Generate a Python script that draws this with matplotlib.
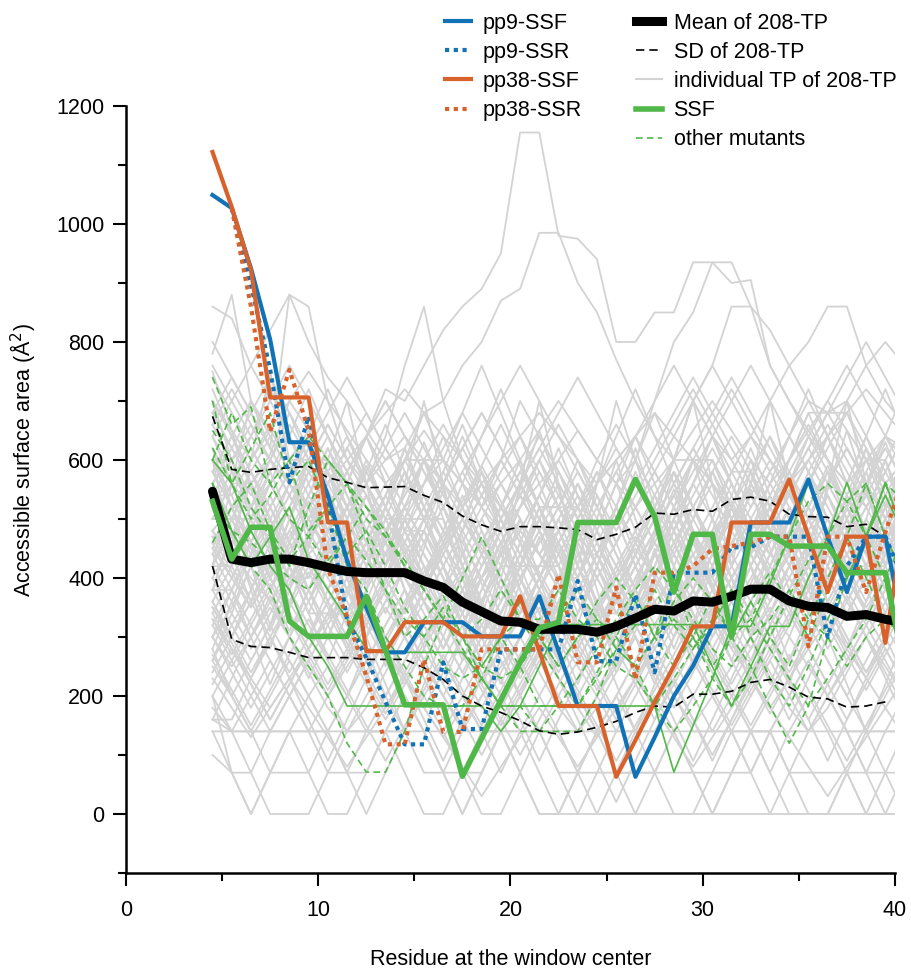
import numpy as np
import matplotlib
matplotlib.use('Agg')
import matplotlib.pyplot as plt
from matplotlib.lines import Line2D
from matplotlib.ticker import MultipleLocator

plt.rcParams['font.family'] = ['Liberation Sans', 'DejaVu Sans']

nan = np.nan

# window centres; the last one lies past the axis end and is clipped
x = np.arange(4.5, 41.0, 1.0)

mean_tp = [547, 432, 426, 432, 432, 426, 418, 411, 409, 409, 409, 395, 384, 359, 343, 327, 325, 313, 313,
           313, 308, 318, 332, 347, 344, 361, 359, 369, 381, 381, 361, 352, 350, 335, 338, 330, 324]
sd_hi = [674, 584, 579, 584, 587, 589, 570, 562, 553, 554, 555, 540, 528, 505, 490, 479, 487, 487,
         485, 482, 465, 474, 486, 510, 508, 516, 513, 533, 537, 530, 508, 504, 503, 487, 491, 470]
sd_lo = [420, 296, 284, 282, 274, 265, 265, 265, 262, 262, 262, 248, 228, 200, 183, 172, 158, 141,
         135, 139, 147, 157, 172, 183, 181, 203, 203, 208, 223, 228, 215, 198, 195, 181, 183, 190]

pp9_ssf = [1049, 1027, 925, 804, 630, 630, 540, 430, 350, 274, 274, 325, 325, 325, 301, 301, 301, 369, 276,
           183, 183, 183, 63, 130, 200, 251, 318, 318, 494, 494, 494, 567, 470, 376, 470, 470, 302]
pp9_ssr = [nan, 1027, 897, 753, 562, 674, 520, 330, 265, 190, 118, 118, 257, 144, 144, 279, 279, 279, 279,
           395, 259, 259, 372, 240, 409, 409, 409, 452, 452, 470, 470, 470, 300, 420, 470, 470, 394]
pp38_ssf = [1122, 1029, 922, 706, 706, 706, 494, 494, 276, 276, 325, 325, 325, 301, 301, 301, 369, 276, 183,
            183, 183, 63, 125, 190, 251, 318, 318, 494, 494, 494, 567, 470, 376, 470, 470, 290, 500]
pp38_ssr = [nan, 1027, 860, 648, 753, 650, 415, 335, 234, 118, 118, 262, 139, 139, 279, 279, 279, 279, 406,
            257, 257, 384, 228, 409, 409, 420, 449, 454, 460, 470, 470, 284, 470, 470, 376, 477, 578]
ssf = [530, 432, 486, 486, 327, 301, 301, 301, 369, 277, 185, 185, 185, 64, 128, 193, 257, 315, 325,
       494, 494, 494, 567, 504, 376, 474, 474, 300, 474, 474, 454, 454, 454, 409, 409, 409, 245]

# other mutants (thin solid and dashed green)
mut_solid = [
    [600, 560, 480, 420, 380, 300, 250, 183, 183, 183, 183, 183, 183, 183, 183, 140, 183, 250, 321,
     321, 321, 321, 321, 321, 321, 321, 250, 183, 250, 318, 318, 400, 470, 562, 470, 562, 470],
    [560, 480, 420, 470, 520, 430, 380, 330, 280, 274, 274, 274, 274, 274, 230, 183, 183, 183, 183,
     183, 183, 183, 183, 183, 71, 150, 230, 318, 318, 390, 470, 562, 470, 400, 470, 540, 470],
]
mut_dash = [
    [740, 660, 690, 560, 600, 480, 520, 420, 380, 300, 250, 200, 183, 183, 230, 300, 250, 183, 183,
     183, 240, 300, 370, 300, 250, 300, 370, 300, 250, 183, 120, 183, 300, 400, 470, 560, 470],
    [700, 560, 620, 680, 560, 600, 520, 440, 480, 420, 350, 300, 350, 300, 230, 183, 140, 140, 140,
     140, 200, 280, 320, 380, 320, 280, 320, 380, 300, 230, 183, 250, 330, 400, 470, 400, 330],
    [650, 600, 520, 470, 420, 520, 600, 560, 470, 380, 300, 330, 370, 300, 250, 300, 360, 300, 250,
     300, 360, 400, 360, 300, 360, 400, 360, 300, 360, 410, 360, 300, 380, 470, 560, 470, 400],
    [560, 480, 420, 380, 300, 250, 200, 120, 71, 71, 140, 250, 330, 400, 470, 400, 330, 300, 250,
     300, 330, 280, 250, 183, 140, 183, 230, 300, 360, 300, 250, 330, 400, 470, 400, 330, 300],
    [600, 680, 600, 560, 500, 470, 420, 470, 520, 480, 420, 380, 330, 300, 250, 230, 250, 300, 330,
     380, 330, 300, 250, 300, 400, 300, 230, 183, 230, 300, 370, 430, 470, 530, 560, 470, 400],
    [460, 520, 560, 480, 430, 470, 520, 560, 500, 470, 430, 380, 330, 280, 230, 183, 183, 140, 183,
     230, 280, 330, 380, 420, 380, 330, 280, 250, 300, 330, 380, 330, 300, 250, 300, 330, 300],
    [520, 480, 460, 430, 400, 380, 430, 470, 430, 380, 330, 300, 250, 230, 250, 300, 330, 330, 380,
     330, 300, 250, 230, 183, 230, 280, 330, 380, 330, 280, 230, 183, 230, 280, 330, 400, 470],
    [620, 560, 500, 540, 600, 640, 600, 560, 520, 470, 420, 380, 330, 300, 330, 380, 330, 280, 230,
     183, 230, 280, 250, 300, 330, 300, 250, 300, 330, 400, 470, 530, 560, 530, 470, 560, 530],
]

# individual TPs of the 208-TP set (a readable subset)
tp_lines = [
    [520, 470, 560, 610, 700, 650, 600, 560, 640, 720, 700, 760, 820, 860, 890, 950, 1155, 1155, 980, 975, 940, 800, 800, 850, 850, 935, 935, 900, 905, 760, 700, 650, 600, 560, 600, 640, 620],
    [860, 840, 760, 820, 880, 800, 740, 700, 650, 600, 620, 680, 700, 760, 800, 870, 890, 985, 985, 900, 850, 770, 700, 640, 600, 700, 760, 860, 860, 820, 760, 700, 680, 700, 760, 800, 760],
    [780, 880, 700, 620, 880, 860, 700, 600, 560, 640, 760, 860, 700, 600, 520, 600, 700, 640, 580, 520, 600, 660, 600, 540, 600, 700, 760, 700, 640, 600, 560, 640, 700, 760, 700, 640, 600],
    [600, 560, 520, 560, 600, 650, 600, 560, 520, 480, 520, 560, 600, 560, 520, 560, 600, 650, 700, 650, 600, 560, 600, 700, 800, 850, 935, 935, 860, 760, 700, 640, 600, 560, 520, 560, 600],
    [480, 520, 560, 600, 560, 520, 480, 520, 560, 600, 640, 600, 560, 520, 560, 600, 640, 680, 640, 600, 560, 600, 640, 700, 760, 700, 640, 600, 640, 700, 760, 800, 860, 860, 760, 700, 660],
    [700, 650, 600, 650, 700, 750, 700, 650, 600, 560, 600, 650, 600, 560, 520, 480, 520, 560, 600, 650, 600, 560, 520, 560, 600, 650, 700, 650, 600, 560, 600, 650, 700, 650, 600, 560, 600],
    [640, 700, 760, 700, 640, 580, 520, 580, 640, 700, 640, 580, 520, 460, 520, 580, 640, 580, 520, 460, 400, 460, 520, 580, 640, 700, 640, 580, 520, 580, 640, 700, 640, 580, 520, 460, 520],
    [560, 600, 640, 600, 560, 520, 560, 600, 640, 680, 720, 680, 640, 600, 560, 520, 480, 440, 480, 520, 560, 600, 640, 680, 640, 600, 560, 520, 480, 520, 560, 600, 640, 680, 720, 680, 640],
    [600, 450, 600, 750, 600, 450, 600, 700, 560, 420, 560, 700, 560, 420, 300, 420, 560, 700, 560, 420, 560, 700, 600, 500, 600, 700, 560, 420, 560, 700, 560, 420, 560, 700, 560, 420, 560],
    [420, 560, 700, 650, 600, 600, 600, 520, 440, 520, 600, 600, 600, 680, 760, 680, 600, 520, 520, 520, 440, 360, 440, 520, 600, 600, 600, 520, 440, 520, 600, 680, 680, 680, 600, 520, 520],
    [800, 740, 680, 620, 560, 500, 560, 620, 560, 500, 440, 500, 560, 620, 680, 620, 560, 500, 440, 380, 440, 500, 560, 620, 680, 740, 680, 620, 560, 500, 440, 500, 560, 500, 440, 500, 560],
    [500, 560, 640, 720, 640, 560, 480, 560, 640, 560, 480, 400, 480, 560, 640, 720, 640, 560, 480, 400, 480, 560, 480, 400, 480, 560, 640, 560, 480, 560, 640, 720, 640, 560, 640, 720, 640],
    [450, 400, 350, 400, 450, 500, 450, 400, 350, 300, 350, 400, 450, 500, 450, 400, 350, 300, 250, 300, 350, 400, 450, 400, 350, 300, 350, 400, 450, 500, 550, 500, 450, 400, 350, 400, 450],
    [380, 480, 380, 280, 380, 480, 580, 480, 380, 480, 380, 280, 380, 480, 580, 480, 380, 280, 380, 480, 380, 280, 380, 480, 580, 480, 380, 480, 580, 480, 380, 280, 380, 480, 380, 480, 580],
    [550, 500, 500, 500, 420, 340, 340, 340, 420, 500, 500, 420, 340, 260, 340, 420, 420, 420, 500, 420, 340, 340, 340, 420, 500, 420, 340, 260, 260, 340, 420, 500, 500, 420, 340, 340, 420],
    [300, 350, 420, 480, 540, 480, 420, 360, 300, 360, 420, 480, 420, 360, 420, 480, 540, 480, 420, 360, 300, 360, 420, 480, 540, 600, 540, 480, 420, 360, 420, 480, 540, 480, 420, 360, 300],
    [620, 520, 420, 320, 420, 520, 420, 320, 420, 520, 620, 520, 420, 320, 220, 320, 420, 520, 420, 320, 420, 520, 620, 520, 420, 320, 420, 520, 420, 320, 220, 320, 420, 520, 620, 520, 420],
    [480, 440, 400, 360, 400, 440, 480, 520, 480, 440, 400, 360, 320, 360, 400, 440, 480, 440, 400, 360, 320, 280, 320, 360, 400, 440, 480, 520, 480, 440, 400, 360, 400, 440, 480, 440, 400],
    [350, 300, 380, 460, 380, 300, 380, 460, 540, 460, 380, 300, 220, 300, 380, 460, 380, 300, 380, 460, 540, 460, 380, 300, 380, 460, 380, 300, 220, 300, 380, 460, 540, 460, 380, 460, 540],
    [700, 600, 500, 400, 500, 600, 500, 400, 300, 400, 500, 600, 500, 400, 300, 400, 500, 400, 300, 400, 500, 600, 500, 400, 500, 600, 500, 400, 300, 400, 500, 400, 300, 400, 500, 600, 500],
    [420, 420, 500, 580, 500, 420, 420, 420, 340, 420, 500, 500, 500, 420, 340, 340, 420, 500, 580, 500, 420, 340, 340, 420, 500, 420, 340, 260, 340, 420, 500, 580, 500, 420, 420, 500, 580],
    [260, 340, 420, 500, 420, 340, 260, 340, 420, 500, 580, 500, 420, 340, 420, 500, 420, 340, 260, 340, 420, 500, 420, 340, 420, 500, 580, 500, 420, 340, 260, 340, 420, 500, 420, 340, 420],
    [580, 640, 580, 520, 460, 400, 460, 520, 580, 520, 460, 400, 340, 400, 460, 520, 460, 400, 340, 280, 340, 400, 460, 520, 460, 400, 460, 520, 580, 640, 580, 520, 460, 400, 460, 520, 580],
    [400, 460, 520, 460, 400, 460, 520, 580, 520, 460, 400, 340, 280, 340, 400, 460, 520, 580, 520, 460, 400, 340, 400, 460, 520, 460, 400, 340, 280, 340, 400, 460, 400, 340, 400, 460, 520],
    [300, 250, 300, 350, 300, 250, 200, 250, 300, 350, 300, 250, 200, 150, 200, 250, 300, 350, 300, 250, 200, 250, 300, 250, 200, 150, 200, 250, 300, 350, 300, 250, 200, 250, 300, 250, 200],
    [360, 300, 240, 300, 360, 420, 360, 300, 240, 180, 240, 300, 360, 300, 240, 180, 240, 300, 360, 420, 360, 300, 240, 300, 360, 300, 240, 180, 240, 300, 360, 420, 360, 300, 240, 300, 360],
    [200, 140, 200, 260, 200, 140, 140, 140, 200, 260, 320, 260, 200, 140, 140, 140, 200, 260, 200, 140, 200, 260, 320, 260, 200, 140, 140, 140, 200, 260, 200, 140, 200, 260, 320, 260, 200],
    [160, 140, 140, 140, 200, 260, 200, 140, 140, 140, 140, 200, 260, 320, 260, 200, 140, 140, 140, 140, 200, 140, 140, 140, 200, 260, 200, 140, 140, 140, 200, 260, 200, 140, 140, 140, 140],
    [330, 280, 230, 180, 230, 280, 330, 380, 330, 280, 230, 180, 130, 180, 230, 280, 330, 280, 230, 180, 130, 180, 230, 280, 330, 380, 330, 280, 230, 180, 230, 280, 330, 280, 230, 180, 230],
    [200, 70, 0, 70, 140, 140, 140, 70, 0, 70, 140, 200, 140, 70, 0, 0, 70, 140, 140, 70, 0, 70, 140, 200, 140, 70, 0, 70, 140, 140, 70, 0, 0, 70, 140, 70, 0],
    [140, 140, 70, 0, 0, 0, 70, 140, 140, 140, 70, 0, 0, 70, 140, 140, 70, 0, 0, 0, 0, 0, 0, 0, 0, 0, 0, 0, 0, 0, 0, 0, 0, 0, 0, 0, 0],
    [250, 200, 140, 140, 140, 200, 250, 200, 140, 140, 140, 140, 140, 200, 140, 140, 140, 140, 140, 140, 140, 140, 140, 140, 140, 140, 140, 140, 140, 140, 140, 140, 140, 140, 140, 140, 140],
    [280, 200, 140, 70, 70, 70, 140, 200, 280, 200, 140, 70, 70, 70, 70, 140, 200, 140, 70, 70, 70, 70, 70, 70, 70, 70, 70, 70, 70, 140, 70, 70, 70, 70, 70, 70, 70],
    [230, 180, 130, 180, 230, 180, 130, 80, 130, 180, 230, 180, 130, 80, 30, 80, 130, 180, 130, 80, 130, 180, 230, 180, 130, 80, 130, 180, 230, 180, 130, 80, 30, 80, 130, 180, 130],
    [520, 460, 520, 580, 640, 580, 520, 460, 400, 460, 520, 460, 400, 340, 400, 460, 400, 340, 280, 340, 400, 460, 520, 460, 400, 340, 280, 220, 280, 340, 400, 340, 280, 340, 400, 460, 400],
    [680, 620, 560, 500, 440, 380, 440, 500, 440, 380, 320, 380, 440, 500, 560, 500, 440, 380, 320, 260, 320, 380, 440, 500, 560, 620, 560, 500, 440, 380, 440, 500, 560, 620, 560, 500, 440],
    [440, 500, 560, 500, 440, 500, 560, 620, 680, 620, 560, 500, 440, 380, 440, 500, 560, 500, 440, 380, 320, 380, 440, 500, 440, 380, 440, 500, 560, 500, 440, 500, 560, 620, 560, 500, 560],
    [600, 540, 600, 660, 600, 540, 480, 420, 480, 540, 600, 540, 480, 420, 360, 420, 480, 540, 600, 540, 480, 420, 480, 540, 480, 420, 360, 420, 480, 540, 600, 660, 600, 540, 480, 540, 600],
    [340, 400, 460, 400, 340, 280, 340, 400, 460, 520, 460, 400, 340, 280, 220, 280, 340, 400, 460, 400, 340, 400, 460, 520, 580, 520, 460, 400, 340, 280, 340, 400, 460, 400, 340, 400, 460],
    [750, 650, 550, 450, 350, 450, 550, 450, 350, 250, 350, 450, 550, 450, 350, 450, 550, 650, 550, 450, 350, 250, 350, 450, 350, 250, 350, 450, 550, 450, 350, 450, 550, 650, 550, 450, 350],
    [470, 470, 390, 310, 390, 470, 550, 470, 390, 470, 550, 630, 550, 470, 390, 310, 390, 470, 390, 310, 230, 310, 390, 470, 550, 470, 390, 310, 390, 470, 550, 470, 390, 470, 550, 630, 550],
    [580, 520, 460, 400, 340, 280, 220, 280, 340, 400, 460, 520, 580, 520, 460, 400, 340, 400, 460, 520, 460, 400, 340, 280, 340, 400, 460, 520, 460, 400, 340, 280, 220, 280, 340, 400, 460],
    [660, 720, 660, 600, 540, 600, 660, 600, 540, 480, 540, 600, 540, 480, 420, 480, 540, 600, 660, 600, 540, 480, 540, 600, 660, 720, 660, 600, 540, 480, 540, 600, 540, 480, 540, 600, 660],
    [380, 320, 260, 320, 380, 440, 380, 320, 260, 200, 260, 320, 380, 440, 500, 440, 380, 320, 260, 200, 140, 200, 260, 320, 380, 440, 380, 320, 260, 320, 380, 440, 500, 440, 380, 320, 260],
    [540, 480, 420, 480, 540, 600, 660, 600, 540, 480, 420, 360, 420, 480, 540, 600, 540, 480, 420, 360, 300, 360, 420, 480, 420, 360, 300, 360, 420, 480, 540, 480, 420, 360, 420, 480, 540],
    [320, 380, 320, 260, 200, 260, 320, 380, 440, 380, 320, 260, 320, 380, 320, 260, 200, 140, 200, 260, 320, 380, 320, 260, 200, 260, 320, 380, 440, 500, 440, 380, 320, 260, 320, 380, 440],
    [160, 230, 300, 370, 300, 230, 300, 370, 440, 370, 300, 230, 160, 230, 300, 230, 160, 90, 160, 230, 300, 370, 300, 230, 160, 90, 160, 230, 300, 230, 160, 230, 300, 370, 300, 230, 160],
    [720, 640, 560, 480, 560, 640, 720, 640, 560, 480, 400, 480, 560, 640, 560, 480, 400, 320, 400, 480, 560, 640, 720, 640, 560, 480, 400, 480, 560, 640, 560, 480, 400, 480, 560, 640, 720],
    [450, 520, 450, 380, 310, 380, 450, 520, 590, 520, 450, 380, 450, 520, 590, 660, 590, 520, 450, 380, 310, 240, 310, 380, 450, 520, 450, 380, 310, 380, 450, 520, 590, 520, 450, 380, 450],
    [260, 200, 260, 320, 260, 200, 140, 200, 260, 320, 380, 320, 260, 200, 260, 320, 260, 200, 140, 70, 140, 200, 260, 320, 380, 320, 260, 200, 140, 200, 260, 320, 260, 200, 140, 200, 260],
    [500, 500, 420, 420, 500, 580, 580, 500, 420, 340, 420, 500, 580, 660, 580, 500, 420, 420, 420, 500, 580, 500, 420, 340, 340, 420, 500, 580, 580, 500, 420, 500, 580, 500, 420, 420, 500],
    [620, 560, 560, 480, 400, 400, 480, 560, 640, 560, 480, 480, 400, 320, 400, 480, 560, 480, 400, 400, 480, 560, 640, 560, 480, 400, 480, 560, 480, 400, 320, 400, 480, 560, 640, 560, 480],
    [280, 360, 440, 520, 440, 360, 440, 520, 600, 520, 440, 360, 280, 360, 440, 520, 600, 520, 440, 360, 440, 520, 440, 360, 280, 360, 440, 520, 600, 520, 440, 360, 440, 520, 440, 360, 280],
    [440, 380, 440, 500, 560, 500, 440, 380, 320, 380, 440, 500, 560, 620, 560, 500, 440, 500, 560, 500, 440, 380, 320, 380, 440, 500, 560, 500, 440, 380, 440, 500, 560, 620, 560, 500, 440],
    [520, 580, 520, 460, 520, 580, 640, 580, 520, 460, 400, 460, 520, 460, 400, 340, 400, 460, 520, 580, 520, 460, 520, 580, 520, 460, 400, 460, 520, 580, 640, 580, 520, 460, 520, 580, 520],
    [360, 420, 480, 420, 360, 300, 360, 420, 480, 540, 480, 420, 360, 420, 480, 420, 360, 300, 240, 300, 360, 420, 480, 540, 480, 420, 360, 300, 360, 420, 480, 420, 360, 420, 480, 540, 480],
    [600, 600, 520, 440, 520, 600, 600, 520, 440, 440, 520, 600, 520, 440, 360, 440, 520, 600, 520, 440, 440, 520, 600, 680, 600, 520, 440, 520, 600, 520, 440, 360, 440, 520, 600, 600, 520],
    [400, 340, 280, 340, 400, 460, 400, 340, 400, 460, 520, 460, 400, 340, 280, 340, 400, 460, 520, 460, 400, 340, 400, 460, 400, 340, 280, 340, 400, 460, 520, 460, 400, 340, 400, 460, 400],
    [560, 500, 440, 380, 440, 500, 440, 380, 320, 380, 440, 380, 320, 380, 440, 500, 560, 500, 440, 500, 560, 620, 560, 500, 440, 380, 440, 500, 560, 500, 440, 380, 440, 500, 560, 620, 560],
    [480, 420, 360, 420, 480, 540, 600, 540, 480, 420, 480, 540, 480, 420, 360, 300, 360, 420, 480, 540, 480, 420, 360, 420, 480, 540, 600, 540, 480, 420, 360, 420, 480, 420, 360, 420, 480],
    [660, 600, 540, 600, 660, 600, 540, 480, 420, 480, 540, 600, 660, 600, 540, 480, 540, 600, 540, 480, 420, 360, 420, 480, 540, 600, 660, 720, 660, 600, 540, 600, 660, 600, 540, 480, 540],
    [320, 260, 320, 380, 440, 380, 320, 260, 320, 380, 320, 260, 200, 260, 320, 380, 440, 380, 320, 260, 320, 380, 440, 500, 440, 380, 320, 260, 200, 260, 320, 380, 440, 380, 320, 380, 440],
    [540, 600, 660, 600, 540, 480, 420, 480, 540, 480, 420, 360, 420, 480, 540, 600, 540, 480, 420, 360, 300, 360, 420, 480, 540, 480, 420, 480, 540, 600, 540, 480, 420, 480, 540, 480, 420],
    [420, 480, 420, 360, 300, 360, 420, 480, 540, 480, 420, 360, 300, 240, 300, 360, 420, 480, 420, 360, 300, 360, 420, 360, 300, 360, 420, 480, 540, 480, 420, 360, 300, 360, 420, 480, 540],
    [700, 640, 580, 520, 580, 640, 580, 520, 460, 520, 580, 520, 460, 400, 460, 520, 580, 640, 580, 520, 460, 400, 460, 520, 580, 520, 460, 400, 460, 520, 580, 640, 580, 520, 460, 520, 580],
    [240, 300, 360, 300, 240, 300, 360, 420, 360, 300, 240, 180, 240, 300, 360, 300, 240, 300, 360, 420, 360, 300, 240, 180, 240, 300, 360, 300, 240, 300, 360, 420, 360, 300, 240, 300, 360],
    [580, 520, 580, 640, 580, 520, 460, 400, 340, 400, 460, 520, 460, 400, 460, 520, 580, 520, 460, 400, 340, 280, 340, 400, 460, 520, 580, 520, 460, 400, 460, 520, 460, 400, 460, 520, 580],
    [460, 520, 460, 400, 460, 520, 580, 520, 460, 400, 340, 400, 460, 520, 580, 520, 460, 400, 460, 520, 460, 400, 340, 400, 460, 520, 460, 400, 340, 400, 460, 520, 580, 520, 460, 400, 460],
    [380, 440, 500, 560, 500, 440, 380, 320, 380, 440, 500, 440, 380, 440, 500, 560, 500, 440, 380, 320, 260, 320, 380, 440, 500, 560, 500, 440, 380, 440, 500, 560, 500, 440, 380, 440, 500],
    [640, 580, 520, 460, 400, 460, 520, 580, 640, 580, 520, 460, 520, 580, 520, 460, 400, 340, 400, 460, 520, 580, 520, 460, 400, 460, 520, 580, 640, 580, 520, 460, 400, 460, 520, 580, 640],
    [220, 280, 220, 160, 220, 280, 340, 280, 220, 160, 220, 280, 220, 160, 100, 160, 220, 280, 340, 280, 220, 160, 220, 280, 220, 160, 100, 160, 220, 280, 340, 280, 220, 160, 220, 280, 220],
    [300, 240, 180, 240, 300, 240, 180, 140, 180, 240, 300, 360, 300, 240, 180, 240, 300, 240, 180, 140, 180, 240, 300, 240, 180, 240, 300, 360, 300, 240, 180, 140, 180, 240, 300, 240, 180],
    [180, 140, 140, 200, 260, 200, 140, 70, 140, 200, 260, 320, 260, 200, 140, 70, 140, 200, 260, 200, 140, 70, 0, 70, 140, 200, 260, 200, 140, 70, 140, 200, 140, 70, 0, 70, 140],
    [270, 210, 150, 210, 270, 330, 270, 210, 150, 90, 150, 210, 270, 210, 150, 210, 270, 330, 270, 210, 150, 90, 150, 210, 270, 330, 270, 210, 150, 210, 270, 210, 150, 90, 150, 210, 270],
    [160, 160, 230, 300, 230, 160, 90, 160, 230, 300, 230, 160, 90, 160, 230, 300, 370, 300, 230, 160, 90, 20, 90, 160, 230, 160, 90, 160, 230, 300, 230, 160, 90, 160, 230, 300, 230],
    [350, 290, 230, 290, 350, 410, 350, 290, 230, 170, 230, 290, 350, 410, 350, 290, 230, 290, 350, 290, 230, 170, 230, 290, 350, 410, 350, 290, 230, 170, 230, 290, 350, 290, 230, 290, 350],
    [140, 70, 70, 140, 200, 140, 70, 70, 70, 140, 200, 140, 70, 0, 70, 140, 70, 0, 0, 70, 140, 70, 70, 70, 140, 70, 0, 70, 140, 70, 0, 0, 0, 70, 0, 0, 70],
    [330, 270, 330, 390, 330, 270, 210, 270, 330, 390, 450, 390, 330, 270, 210, 150, 210, 270, 330, 270, 210, 270, 330, 390, 330, 270, 210, 150, 210, 270, 330, 390, 330, 270, 210, 270, 330],
    [760, 700, 640, 700, 760, 700, 640, 580, 640, 700, 640, 580, 520, 580, 640, 700, 760, 700, 640, 580, 520, 580, 640, 580, 520, 580, 640, 700, 760, 700, 640, 580, 640, 700, 640, 580, 640],
    [680, 740, 680, 620, 560, 620, 680, 740, 680, 620, 560, 500, 560, 620, 680, 620, 560, 620, 680, 740, 680, 620, 560, 500, 560, 620, 680, 740, 680, 620, 560, 620, 680, 740, 800, 740, 680],
    [600, 520, 520, 600, 680, 600, 520, 440, 440, 520, 600, 680, 600, 520, 440, 360, 440, 520, 520, 600, 520, 440, 360, 440, 520, 600, 600, 520, 440, 520, 600, 680, 600, 520, 440, 520, 600],
    [380, 380, 460, 540, 460, 380, 300, 380, 460, 540, 620, 540, 460, 380, 300, 380, 460, 380, 300, 220, 300, 380, 460, 540, 460, 380, 300, 380, 460, 540, 460, 380, 460, 540, 620, 540, 460],
    [520, 440, 360, 440, 520, 440, 360, 280, 360, 440, 520, 600, 520, 440, 360, 280, 200, 280, 360, 440, 360, 280, 360, 440, 520, 440, 360, 280, 360, 440, 520, 440, 360, 280, 360, 440, 520],
    [640, 560, 480, 560, 640, 720, 640, 560, 480, 400, 480, 560, 640, 560, 480, 400, 320, 400, 480, 560, 480, 400, 320, 400, 480, 560, 640, 560, 480, 400, 480, 560, 640, 560, 480, 400, 480],
    [300, 380, 300, 220, 300, 380, 460, 380, 300, 220, 140, 220, 300, 380, 300, 220, 300, 380, 460, 380, 300, 220, 140, 220, 300, 380, 460, 380, 300, 220, 300, 380, 300, 220, 140, 220, 300],
    [460, 400, 460, 520, 580, 640, 580, 520, 460, 400, 340, 400, 460, 400, 340, 280, 340, 400, 460, 520, 580, 520, 460, 400, 340, 280, 340, 400, 460, 520, 460, 400, 340, 400, 460, 520, 580],
    [560, 620, 560, 500, 440, 500, 560, 620, 560, 500, 440, 380, 440, 500, 440, 380, 320, 380, 440, 380, 320, 380, 440, 500, 560, 500, 440, 380, 440, 500, 560, 620, 560, 500, 440, 500, 560],
    [420, 360, 300, 360, 420, 360, 300, 240, 300, 360, 420, 480, 420, 360, 300, 360, 420, 480, 540, 480, 420, 360, 300, 240, 300, 360, 420, 360, 300, 360, 420, 480, 420, 360, 300, 360, 420],
    [740, 680, 620, 560, 500, 560, 620, 560, 500, 440, 500, 560, 620, 680, 620, 560, 500, 440, 500, 560, 500, 440, 380, 440, 500, 560, 620, 560, 500, 440, 500, 560, 620, 680, 620, 560, 500],
    [340, 280, 220, 160, 220, 280, 340, 400, 340, 280, 220, 280, 340, 280, 220, 160, 100, 160, 220, 280, 340, 280, 220, 160, 220, 280, 340, 400, 340, 280, 220, 160, 220, 280, 340, 280, 220],
    [500, 560, 620, 560, 500, 440, 380, 440, 500, 560, 500, 440, 380, 320, 380, 440, 500, 440, 380, 320, 260, 320, 380, 440, 380, 320, 380, 440, 500, 560, 500, 440, 380, 440, 500, 440, 380],
    [260, 320, 380, 440, 380, 320, 260, 200, 260, 320, 380, 320, 260, 200, 140, 200, 260, 320, 260, 200, 260, 320, 380, 320, 260, 200, 140, 200, 260, 320, 380, 320, 260, 200, 260, 320, 380],
    [680, 620, 680, 740, 680, 620, 560, 500, 560, 620, 680, 620, 560, 500, 440, 500, 560, 620, 560, 500, 440, 380, 440, 500, 560, 620, 560, 500, 440, 500, 560, 620, 680, 620, 560, 500, 560],
    [100, 70, 0, 70, 140, 70, 0, 0, 70, 140, 200, 140, 70, 0, 70, 140, 140, 70, 0, 70, 140, 200, 140, 70, 0, 0, 70, 140, 70, 0, 70, 140, 200, 140, 70, 0, 0],
    [420, 500, 580, 500, 420, 340, 420, 500, 580, 660, 580, 500, 420, 340, 260, 340, 420, 500, 420, 340, 420, 500, 580, 500, 420, 340, 260, 340, 420, 500, 580, 500, 420, 500, 580, 500, 420],
    [360, 300, 360, 420, 480, 420, 360, 300, 240, 300, 360, 420, 360, 300, 360, 420, 480, 540, 480, 420, 360, 300, 240, 300, 360, 420, 480, 420, 360, 300, 240, 300, 360, 420, 480, 420, 360],
    [580, 640, 700, 640, 580, 520, 580, 640, 580, 520, 460, 400, 460, 520, 580, 520, 460, 400, 340, 400, 460, 520, 460, 400, 460, 520, 580, 640, 580, 520, 460, 400, 460, 520, 580, 640, 580],
    [200, 260, 200, 140, 140, 140, 200, 260, 320, 260, 200, 140, 70, 140, 200, 260, 200, 140, 70, 0, 70, 140, 200, 260, 320, 260, 200, 140, 70, 140, 200, 260, 200, 140, 70, 140, 200],
    [470, 410, 350, 410, 470, 530, 470, 410, 350, 290, 350, 410, 470, 530, 590, 530, 470, 410, 350, 290, 350, 410, 470, 410, 350, 410, 470, 530, 470, 410, 350, 290, 350, 410, 470, 530, 470],
    [540, 540, 460, 380, 460, 540, 620, 540, 460, 380, 300, 380, 460, 540, 460, 380, 460, 540, 620, 540, 460, 380, 300, 220, 300, 380, 460, 540, 620, 540, 460, 380, 460, 540, 460, 380, 460],
]

BLUE = '#1172b6'
ORANGE = '#d8622b'
GREEN = '#50b848'
GRAY = '#d3d3d3'
FS = 15.5
DOTS = (0, (1, 1.1))
DASH_SD = (0, (5, 3))
DASH_MUT = (0, (4, 2.5))

fig = plt.figure(figsize=(9.11, 9.73), dpi=100)
ax = fig.add_axes([0.1383, 0.1028, 0.8441, 0.7883])

# background: every single TP in light gray
for v in tp_lines:
    ax.plot(x[:len(v)], v, color=GRAY, lw=1.3, zorder=1)

for v in mut_solid:
    ax.plot(x[:len(v)], v, color=GREEN, lw=1.2, zorder=2)
for v in mut_dash:
    ax.plot(x[:len(v)], v, color=GREEN, lw=1.2, ls=DASH_MUT, zorder=2)

ax.plot(x[:len(sd_hi)], sd_hi, color='black', lw=1.2, ls=DASH_SD, zorder=3)
ax.plot(x[:len(sd_lo)], sd_lo, color='black', lw=1.2, ls=DASH_SD, zorder=3)

ax.plot(x, pp9_ssf, color=BLUE, lw=3, zorder=4)
ax.plot(x, pp9_ssr, color=BLUE, lw=3, ls=DOTS, zorder=4)
ax.plot(x, pp38_ssf, color=ORANGE, lw=3, zorder=4)
ax.plot(x, pp38_ssr, color=ORANGE, lw=3, ls=DOTS, zorder=4)

ax.plot(x, mean_tp, color='black', lw=6.5, solid_capstyle='round', zorder=5)
ax.plot(x, ssf, color=GREEN, lw=4, zorder=6)

ax.set_xlim(0, 40)
ax.set_ylim(-100, 1200)
ax.xaxis.set_major_locator(MultipleLocator(10))
ax.xaxis.set_minor_locator(MultipleLocator(5))
ax.yaxis.set_major_locator(MultipleLocator(200))
ax.yaxis.set_minor_locator(MultipleLocator(100))
for s in ['top', 'right']:
    ax.spines[s].set_visible(False)
for s in ['left', 'bottom']:
    ax.spines[s].set_linewidth(1.8)
ax.tick_params(which='major', direction='out', length=9.5, width=1.5, labelsize=FS)
ax.tick_params(which='minor', direction='out', length=6, width=1.5)
ax.tick_params(axis='x', which='major', pad=10)
ax.tick_params(axis='y', which='major', pad=6)
ax.set_xlabel('Residue at the window center', fontsize=FS, labelpad=20)
ax.set_ylabel('Accessible surface area (Å$^2$)', fontsize=FS)
ax.yaxis.set_label_coords(-0.114, 0.538)

# legend: 4 entries in the left column, 5 in the right one
handles = [
    Line2D([], [], color=BLUE, lw=3),
    Line2D([], [], color=BLUE, lw=3, ls=DOTS),
    Line2D([], [], color=ORANGE, lw=3),
    Line2D([], [], color=ORANGE, lw=3, ls=DOTS),
    Line2D([], [], ls='none'),
    Line2D([], [], color='black', lw=6.5),
    Line2D([], [], color='black', lw=1.2, ls=DASH_SD),
    Line2D([], [], color=GRAY, lw=1.5),
    Line2D([], [], color=GREEN, lw=4),
    Line2D([], [], color=GREEN, lw=1.2, ls=DASH_MUT),
]
labels = ['pp9-SSF', 'pp9-SSR', 'pp38-SSF', 'pp38-SSR', '',
          'Mean of 208-TP', 'SD of 208-TP', 'individual TP of 208-TP', 'SSF', 'other mutants']
fig.legend(handles, labels, ncol=2, loc='upper left', bbox_to_anchor=(0.4886, 0.987),
           frameon=False, fontsize=FS, handlelength=1.2, handletextpad=0.55,
           labelspacing=0.38, columnspacing=2.5, borderpad=0, borderaxespad=0)

fig.savefig('out.png', dpi=100)
